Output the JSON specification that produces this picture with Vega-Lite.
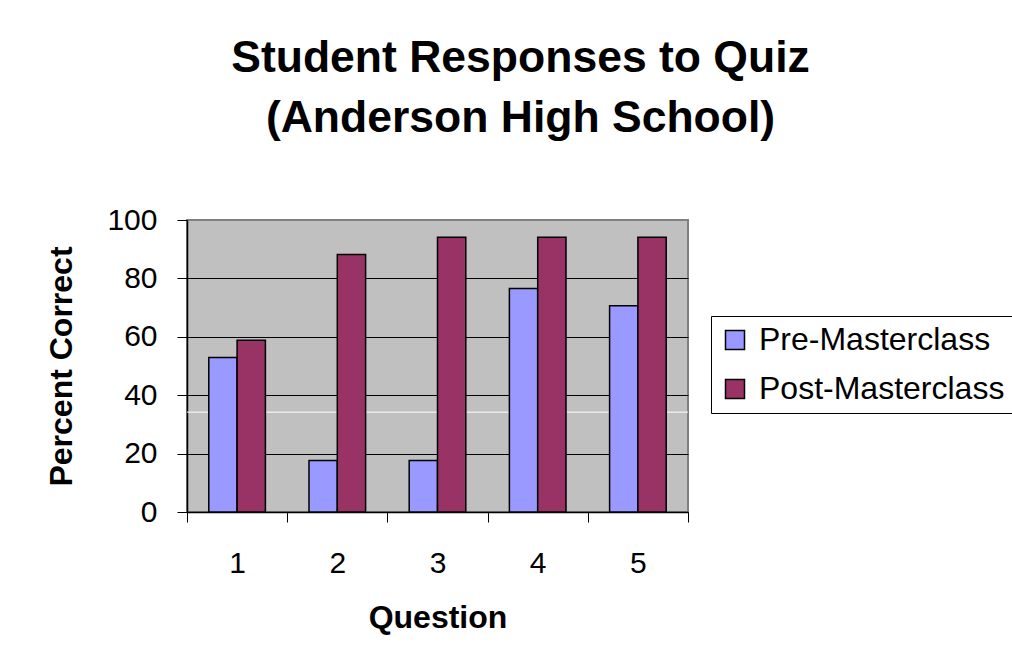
{
  "$schema": "https://vega.github.io/schema/vega-lite/v6.json",
  "width": 501,
  "height": 292,
  "autosize": {"type": "none"},
  "padding": {"left": 187, "top": 220, "right": 324, "bottom": 154},
  "background": "white",
  "title": {
    "text": ["Student Responses to Quiz", "(Anderson High School)"],
    "fontSize": 44.5,
    "font": "Liberation Sans",
    "fontWeight": "bold",
    "lineHeight": 60,
    "color": "black",
    "anchor": "middle",
    "frame": "group",
    "dx": 83,
    "offset": 64
  },
  "datasets": {
    "bars": [
      {"question": "1", "phase": "Pre-Masterclass", "pct": 52.9},
      {"question": "1", "phase": "Post-Masterclass", "pct": 58.8},
      {"question": "2", "phase": "Pre-Masterclass", "pct": 17.6},
      {"question": "2", "phase": "Post-Masterclass", "pct": 88.2},
      {"question": "3", "phase": "Pre-Masterclass", "pct": 17.6},
      {"question": "3", "phase": "Post-Masterclass", "pct": 94.1},
      {"question": "4", "phase": "Pre-Masterclass", "pct": 76.5},
      {"question": "4", "phase": "Post-Masterclass", "pct": 94.1},
      {"question": "5", "phase": "Pre-Masterclass", "pct": 70.6},
      {"question": "5", "phase": "Post-Masterclass", "pct": 94.1}
    ],
    "line": [{"pct": 34.2}]
  },
  "encoding": {
    "y": {
      "field": "pct",
      "type": "quantitative",
      "scale": {"domain": [0, 100], "nice": false, "zero": true},
      "axis": {
        "title": "Percent Correct",
        "values": [0, 20, 40, 60, 80, 100],
        "labelFontSize": 30,
        "labelPadding": 20,
        "tickSize": 10,
        "tickColor": "black",
        "tickWidth": 1,
        "domainColor": "black",
        "domainWidth": 1.5,
        "grid": true,
        "gridColor": {"condition": {"test": "datum.value === 100", "value": "#808080"}, "value": "black"},
        "gridWidth": 1.2,
        "titleFontSize": 32,
        "titlePadding": 28
      }
    }
  },
  "layer": [
    {
      "data": {"name": "line"},
      "mark": {"type": "rule", "color": "white", "strokeWidth": 1}
    },
    {
      "data": {"name": "bars"},
      "mark": {"type": "bar", "stroke": "black", "strokeWidth": 1.5},
      "encoding": {
        "x": {
          "field": "question",
          "type": "nominal",
          "scale": {"paddingInner": 0, "paddingOuter": 0},
          "axis": {
            "title": "Question",
            "labelAngle": 0,
            "tickBand": "extent",
            "tickSize": 10,
            "tickColor": "black",
            "domainColor": "black",
            "domainWidth": 1.5,
            "labelFontSize": 30,
            "labelPadding": 26,
            "titleFontSize": 32,
            "titlePadding": 24
          }
        },
        "xOffset": {
          "field": "phase",
          "type": "nominal",
          "sort": ["Pre-Masterclass", "Post-Masterclass"],
          "scale": {"paddingInner": 0, "paddingOuter": 0.77}
        },
        "color": {
          "field": "phase",
          "type": "nominal",
          "sort": ["Pre-Masterclass", "Post-Masterclass"],
          "scale": {"domain": ["Pre-Masterclass", "Post-Masterclass"], "range": ["#9999FF", "#993366"]},
          "legend": {
            "title": null,
            "orient": "none",
            "legendX": 524,
            "legendY": 96,
            "labelFontSize": 32,
            "labelLimit": 0,
            "labelColor": "black",
            "symbolType": "square",
            "symbolSize": 361,
            "symbolStrokeColor": "black",
            "symbolStrokeWidth": 1.5,
            "symbolOpacity": 1,
            "strokeColor": "black",
            "fillColor": "white",
            "padding": 8,
            "rowPadding": 17,
            "labelOffset": 8
          }
        }
      }
    }
  ],
  "config": {
    "font": "Liberation Sans",
    "view": {"fill": "#C0C0C0", "stroke": "#808080", "strokeWidth": 2},
    "axis": {
      "labelColor": "black",
      "titleColor": "black",
      "titleFontWeight": "bold",
      "labelFont": "Liberation Sans",
      "titleFont": "Liberation Sans"
    },
    "legend": {"labelFont": "Liberation Sans"}
  }
}
